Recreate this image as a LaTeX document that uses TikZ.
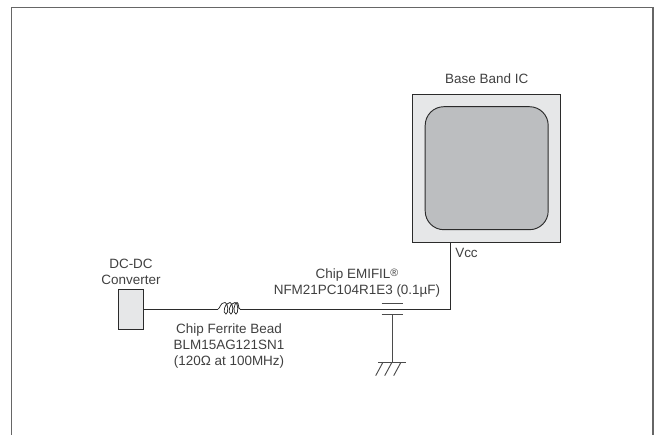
\documentclass[tikz,border=0pt]{standalone}
\usepackage{fontspec}
\setmainfont{Liberation Sans}
\usetikzlibrary{positioning}
\definecolor{inkgray}{HTML}{2B2B2B}
\definecolor{chiplight}{HTML}{E6E7E8}
\definecolor{chipdark}{HTML}{BCBEC0}
\tikzset{
  lbl/.style={inner sep=0pt, align=center, text=inkgray!90, font=\fontsize{10.1}{12}\selectfont},
  wire/.style={draw=inkgray, line width=0.7pt},
  thinwire/.style={draw=inkgray!85, line width=0.7pt},
}
\begin{document}
\begin{tikzpicture}[x=0.75pt, y=-0.75pt]
            \useasboundingbox (0,0) rectangle (658,435);
            \coordinate (frameBL) at (11.5,435);
            \coordinate (frameTL) at (11.5,7.5);
            \coordinate (frameTR) at (653,7.5);
            \coordinate (frameBR) at (653,435);
            \draw[draw=gray!80!black, line width=1.1pt] (frameBL) -- (frameTL) -- (frameTR) -- (frameBR);

            \node (ic) [draw=inkgray, line width=0.7pt, fill=chiplight, minimum width=111pt, minimum height=111pt, inner sep=0pt] at (486.7,168.2) {};
            \node (core) [draw=inkgray, line width=0.7pt, fill=chipdark, rounded corners=14pt, minimum width=92.25pt, minimum height=92.25pt, inner sep=0pt] at (ic.center) {};
            \node (conv) [draw=inkgray, line width=0.7pt, fill=chiplight, minimum width=18.9pt, minimum height=30pt, inner sep=0pt] at (131,309) {};

            \node (icname) [lbl, above=7.5pt of ic] {Base Band IC};
            \node (convname) [lbl, above=3pt of conv] {DC-DC\\Converter};
            \node (vcc) [lbl] at (466.5,253) {Vcc};
            \node (emifil) [lbl] at (357,283.5) {Chip EMIFIL\smash{\raisebox{1.5pt}{\fontsize{8}{8}\selectfont ®}}\\NFM21PC104R1E3 (0.1µF)};
            \node (bead) [lbl] at (229,346) {Chip Ferrite Bead\\BLM15AG121SN1\\(120Ω at 100MHz)};

            \coordinate (beadL) at (218,309);
            \coordinate (beadR) at (240,309);
            \coordinate (corner) at (450.7,309);
            \coordinate (vccpin) at (450.7,242);
            \coordinate (capTL) at (381.7,303.7);
            \coordinate (capTR) at (402.7,303.7);
            \coordinate (capBL) at (381.7,314.7);
            \coordinate (capBR) at (402.7,314.7);
            \coordinate (capB) at (392,314.7);
            \coordinate (gnd) at (392,362.7);
            \coordinate (gndL) at (378,362.7);
            \coordinate (gndR) at (405.7,362.7);

            \draw[wire] (conv.east) -- (beadL);
            \draw[wire, line width=0.55pt] (beadL) .. controls (220,309) and (220,302.5) .. (225,302.5)
                .. controls (228.5,302.5) and (228.5,314) .. (226,314) .. controls (222.5,314) and (224,302.5) .. (230,302.5)
                .. controls (233.5,302.5) and (233.5,314) .. (231,314) .. controls (227.5,314) and (229,302.5) .. (235,302.5)
                .. controls (238.5,302.5) and (238.5,314) .. (236,314) .. controls (232.5,314) and (234,302.5) .. (237,302.5)
                .. controls (239,302.5) and (238,309) .. (beadR);
            \draw[wire] (beadR) -- (corner) -- (vccpin);
            \draw[thinwire] (capTL) -- (capTR);
            \draw[thinwire] (capBL) -- (capBR);
            \draw[thinwire] (capB) -- (gnd);
            \draw[thinwire] (gndL) -- (gndR);
            \foreach \gx in {0,9,18} {
                \draw[thinwire] ([xshift=\gx*0.75pt]382.7,362.7) -- ([xshift=\gx*0.75pt]375.7,375.7);
            }
        \end{tikzpicture}
\end{document}
